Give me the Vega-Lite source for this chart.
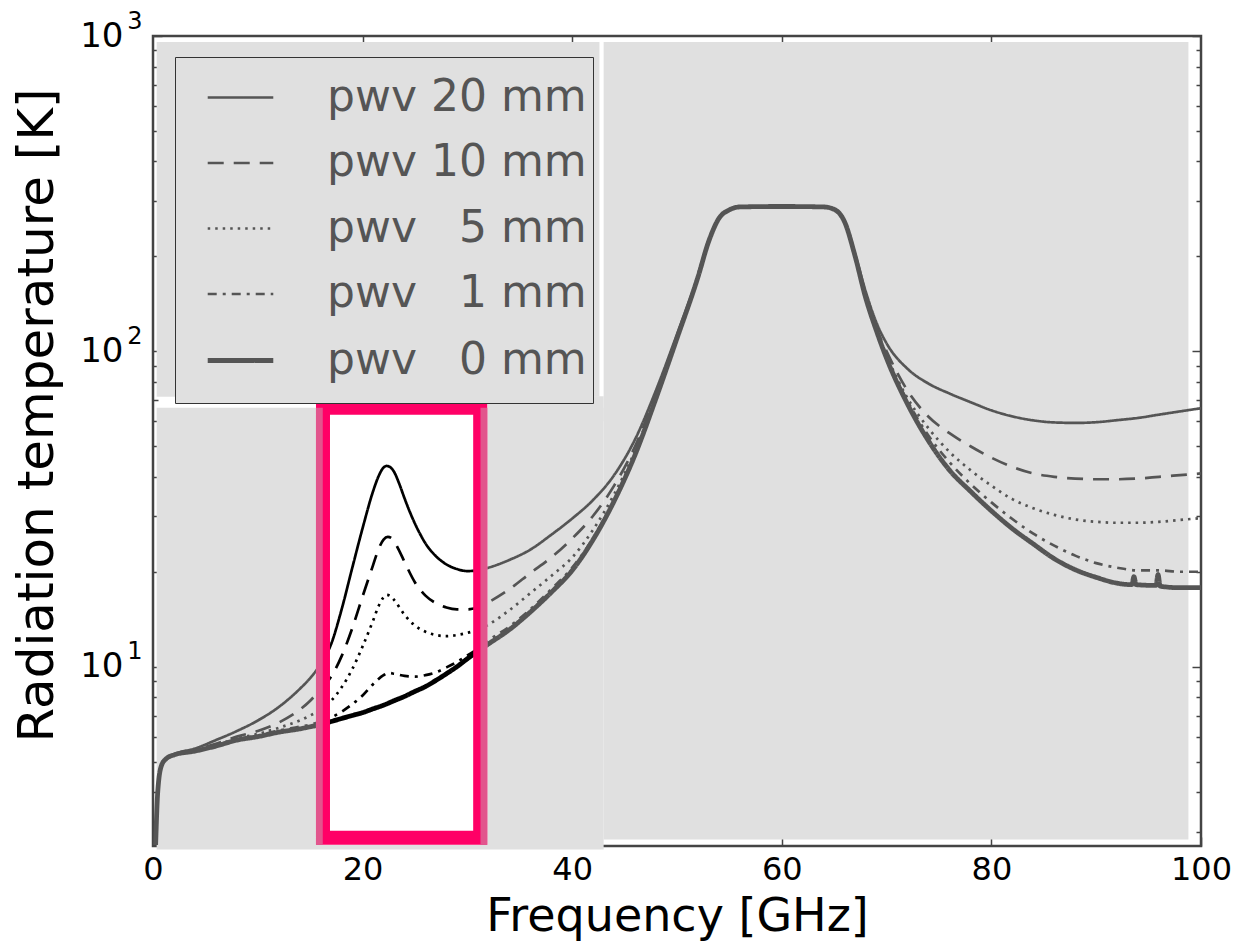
{
  "$schema": "https://vega.github.io/schema/vega-lite/v6.json",
  "width": 1048,
  "height": 810,
  "autosize": {"type": "none"},
  "padding": {"left": 153, "top": 36, "right": 33, "bottom": 101},
  "background": "white",
  "config": {
    "font": "DejaVu Sans",
    "view": {"stroke": "#444", "strokeWidth": 2.5},
    "axis": {"grid": false, "domain": false, "zindex": 1, "tickColor": "#444", "tickWidth": 1.5, "labelColor": "black", "titleColor": "black", "titleFontWeight": "normal", "labelFont": "DejaVu Sans", "titleFont": "DejaVu Sans"}
  },
  "datasets": {
    "bg": [
      {"x1": 0.35, "x2": 43.0, "y1": 2.63, "y2": 66.2},
      {"x1": 15.6, "x2": 43.0, "y1": 60, "y2": 72},
      {"x1": 0.35, "x2": 42.6, "y1": 71.8, "y2": 957},
      {"x1": 43.0, "x2": 98.8, "y1": 2.83, "y2": 957}
    ],
    "white": [{"x1": 15.55, "x2": 31.9, "y1": 2.72, "y2": 69.2}],
    "pink": [{"x1": 16.22, "x2": 31.22, "y1": 2.87, "y2": 66.2}],
    "edges": [
      {"x1": 15.55, "x2": 16.2, "y1": 2.72, "y2": 66.2},
      {"x1": 31.25, "x2": 31.9, "y1": 2.72, "y2": 66.2}
    ],
    "curves": [
      {"pwv": "20", "f": 0.25, "T": 2.72}, {"pwv": "20", "f": 0.45, "T": 4.0}, {"pwv": "20", "f": 0.8, "T": 4.85}, {"pwv": "20", "f": 1.3, "T": 5.13}, {"pwv": "20", "f": 2, "T": 5.28}, {"pwv": "20", "f": 4, "T": 5.5}, {"pwv": "20", "f": 6, "T": 5.85}, {"pwv": "20", "f": 8, "T": 6.25}, {"pwv": "20", "f": 10, "T": 6.75}, {"pwv": "20", "f": 12, "T": 7.45}, {"pwv": "20", "f": 14, "T": 8.5}, {"pwv": "20", "f": 15, "T": 9.2}, {"pwv": "20", "f": 16, "T": 10.2}, {"pwv": "20", "f": 17, "T": 11.8}, {"pwv": "20", "f": 18, "T": 15.2}, {"pwv": "20", "f": 19, "T": 20.5}, {"pwv": "20", "f": 20, "T": 27.5}, {"pwv": "20", "f": 21, "T": 36}, {"pwv": "20", "f": 21.5, "T": 40}, {"pwv": "20", "f": 22, "T": 42.8}, {"pwv": "20", "f": 22.3, "T": 43.3}, {"pwv": "20", "f": 22.6, "T": 43}, {"pwv": "20", "f": 23, "T": 41.5}, {"pwv": "20", "f": 23.5, "T": 38}, {"pwv": "20", "f": 24, "T": 34.2}, {"pwv": "20", "f": 24.5, "T": 31}, {"pwv": "20", "f": 25, "T": 28.4}, {"pwv": "20", "f": 25.5, "T": 26.3}, {"pwv": "20", "f": 26, "T": 24.6}, {"pwv": "20", "f": 27, "T": 22.4}, {"pwv": "20", "f": 28, "T": 21.1}, {"pwv": "20", "f": 29, "T": 20.4}, {"pwv": "20", "f": 30, "T": 20.1}, {"pwv": "20", "f": 31, "T": 20.2}, {"pwv": "20", "f": 32, "T": 20.6}, {"pwv": "20", "f": 34, "T": 21.8}, {"pwv": "20", "f": 36, "T": 23.5}, {"pwv": "20", "f": 38, "T": 26.2}, {"pwv": "20", "f": 40, "T": 29.5}, {"pwv": "20", "f": 42, "T": 33.8}, {"pwv": "20", "f": 44, "T": 40.5}, {"pwv": "20", "f": 46, "T": 52.6}, {"pwv": "20", "f": 48, "T": 75.3}, {"pwv": "20", "f": 50, "T": 113.3}, {"pwv": "20", "f": 52, "T": 174}, {"pwv": "20", "f": 53, "T": 224}, {"pwv": "20", "f": 54, "T": 264}, {"pwv": "20", "f": 55, "T": 281}, {"pwv": "20", "f": 56, "T": 287}, {"pwv": "20", "f": 60, "T": 288}, {"pwv": "20", "f": 64, "T": 287}, {"pwv": "20", "f": 65, "T": 282}, {"pwv": "20", "f": 66, "T": 258}, {"pwv": "20", "f": 67, "T": 203}, {"pwv": "20", "f": 68, "T": 155}, {"pwv": "20", "f": 69, "T": 124}, {"pwv": "20", "f": 70, "T": 106}, {"pwv": "20", "f": 72, "T": 88}, {"pwv": "20", "f": 74, "T": 79}, {"pwv": "20", "f": 76, "T": 73.5}, {"pwv": "20", "f": 78, "T": 69}, {"pwv": "20", "f": 80, "T": 65}, {"pwv": "20", "f": 82, "T": 62.2}, {"pwv": "20", "f": 84, "T": 60.4}, {"pwv": "20", "f": 86, "T": 59.5}, {"pwv": "20", "f": 88, "T": 59.3}, {"pwv": "20", "f": 90, "T": 59.6}, {"pwv": "20", "f": 92, "T": 60.5}, {"pwv": "20", "f": 94, "T": 61.5}, {"pwv": "20", "f": 96, "T": 63}, {"pwv": "20", "f": 98, "T": 64.5}, {"pwv": "20", "f": 100, "T": 66},

      {"pwv": "10", "f": 0.25, "T": 2.72}, {"pwv": "10", "f": 0.45, "T": 4.0}, {"pwv": "10", "f": 0.8, "T": 4.85}, {"pwv": "10", "f": 1.3, "T": 5.12}, {"pwv": "10", "f": 2, "T": 5.27}, {"pwv": "10", "f": 4, "T": 5.45}, {"pwv": "10", "f": 6, "T": 5.7}, {"pwv": "10", "f": 8, "T": 6.0}, {"pwv": "10", "f": 10, "T": 6.25}, {"pwv": "10", "f": 12, "T": 6.65}, {"pwv": "10", "f": 14, "T": 7.3}, {"pwv": "10", "f": 15, "T": 7.8}, {"pwv": "10", "f": 16, "T": 8.5}, {"pwv": "10", "f": 17, "T": 9.3}, {"pwv": "10", "f": 18, "T": 10.8}, {"pwv": "10", "f": 19, "T": 13.2}, {"pwv": "10", "f": 20, "T": 16.7}, {"pwv": "10", "f": 21, "T": 21}, {"pwv": "10", "f": 21.5, "T": 23.5}, {"pwv": "10", "f": 22, "T": 25.3}, {"pwv": "10", "f": 22.4, "T": 25.8}, {"pwv": "10", "f": 22.8, "T": 25.5}, {"pwv": "10", "f": 23, "T": 25}, {"pwv": "10", "f": 23.5, "T": 23.3}, {"pwv": "10", "f": 24, "T": 21.5}, {"pwv": "10", "f": 25, "T": 18.5}, {"pwv": "10", "f": 26, "T": 16.8}, {"pwv": "10", "f": 27, "T": 15.9}, {"pwv": "10", "f": 28, "T": 15.4}, {"pwv": "10", "f": 29, "T": 15.2}, {"pwv": "10", "f": 30, "T": 15.2}, {"pwv": "10", "f": 31, "T": 15.4}, {"pwv": "10", "f": 32, "T": 16}, {"pwv": "10", "f": 34, "T": 17.6}, {"pwv": "10", "f": 36, "T": 19.8}, {"pwv": "10", "f": 38, "T": 22.2}, {"pwv": "10", "f": 40, "T": 25.5}, {"pwv": "10", "f": 42, "T": 30.1}, {"pwv": "10", "f": 44, "T": 37.5}, {"pwv": "10", "f": 46, "T": 50}, {"pwv": "10", "f": 48, "T": 73}, {"pwv": "10", "f": 50, "T": 111.6}, {"pwv": "10", "f": 52, "T": 173}, {"pwv": "10", "f": 53, "T": 223}, {"pwv": "10", "f": 54, "T": 264}, {"pwv": "10", "f": 55, "T": 281}, {"pwv": "10", "f": 56, "T": 287}, {"pwv": "10", "f": 60, "T": 288}, {"pwv": "10", "f": 64, "T": 287}, {"pwv": "10", "f": 65, "T": 282}, {"pwv": "10", "f": 66, "T": 257}, {"pwv": "10", "f": 67, "T": 201}, {"pwv": "10", "f": 68, "T": 150}, {"pwv": "10", "f": 69, "T": 119}, {"pwv": "10", "f": 70, "T": 100}, {"pwv": "10", "f": 72, "T": 75}, {"pwv": "10", "f": 74, "T": 62}, {"pwv": "10", "f": 76, "T": 55}, {"pwv": "10", "f": 78, "T": 50}, {"pwv": "10", "f": 80, "T": 46}, {"pwv": "10", "f": 82, "T": 43}, {"pwv": "10", "f": 84, "T": 41}, {"pwv": "10", "f": 86, "T": 40}, {"pwv": "10", "f": 88, "T": 39.5}, {"pwv": "10", "f": 90, "T": 39.3}, {"pwv": "10", "f": 92, "T": 39.3}, {"pwv": "10", "f": 94, "T": 39.5}, {"pwv": "10", "f": 96, "T": 40}, {"pwv": "10", "f": 98, "T": 40.5}, {"pwv": "10", "f": 100, "T": 41},

      {"pwv": "5", "f": 0.25, "T": 2.72}, {"pwv": "5", "f": 0.45, "T": 4.0}, {"pwv": "5", "f": 0.8, "T": 4.85}, {"pwv": "5", "f": 1.3, "T": 5.12}, {"pwv": "5", "f": 2, "T": 5.26}, {"pwv": "5", "f": 4, "T": 5.42}, {"pwv": "5", "f": 6, "T": 5.65}, {"pwv": "5", "f": 8, "T": 5.92}, {"pwv": "5", "f": 10, "T": 6.12}, {"pwv": "5", "f": 12, "T": 6.4}, {"pwv": "5", "f": 14, "T": 6.75}, {"pwv": "5", "f": 15, "T": 7.0}, {"pwv": "5", "f": 16, "T": 7.3}, {"pwv": "5", "f": 17, "T": 7.8}, {"pwv": "5", "f": 18, "T": 8.6}, {"pwv": "5", "f": 19, "T": 9.8}, {"pwv": "5", "f": 20, "T": 11.6}, {"pwv": "5", "f": 21, "T": 14}, {"pwv": "5", "f": 21.5, "T": 15.5}, {"pwv": "5", "f": 22, "T": 16.6}, {"pwv": "5", "f": 22.3, "T": 16.9}, {"pwv": "5", "f": 22.7, "T": 16.7}, {"pwv": "5", "f": 23, "T": 16.3}, {"pwv": "5", "f": 24, "T": 14.6}, {"pwv": "5", "f": 25, "T": 13.5}, {"pwv": "5", "f": 26, "T": 12.9}, {"pwv": "5", "f": 27, "T": 12.6}, {"pwv": "5", "f": 28, "T": 12.5}, {"pwv": "5", "f": 29, "T": 12.6}, {"pwv": "5", "f": 30, "T": 12.8}, {"pwv": "5", "f": 31, "T": 13.1}, {"pwv": "5", "f": 32, "T": 13.6}, {"pwv": "5", "f": 34, "T": 15.1}, {"pwv": "5", "f": 36, "T": 17.1}, {"pwv": "5", "f": 38, "T": 19.4}, {"pwv": "5", "f": 40, "T": 22.2}, {"pwv": "5", "f": 42, "T": 27.2}, {"pwv": "5", "f": 44, "T": 35.2}, {"pwv": "5", "f": 46, "T": 48.4}, {"pwv": "5", "f": 48, "T": 72}, {"pwv": "5", "f": 50, "T": 110.8}, {"pwv": "5", "f": 52, "T": 172.5}, {"pwv": "5", "f": 53, "T": 222}, {"pwv": "5", "f": 54, "T": 264}, {"pwv": "5", "f": 55, "T": 281}, {"pwv": "5", "f": 56, "T": 287}, {"pwv": "5", "f": 60, "T": 288}, {"pwv": "5", "f": 64, "T": 287}, {"pwv": "5", "f": 65, "T": 282}, {"pwv": "5", "f": 66, "T": 257}, {"pwv": "5", "f": 67, "T": 200}, {"pwv": "5", "f": 68, "T": 149}, {"pwv": "5", "f": 69, "T": 118}, {"pwv": "5", "f": 70, "T": 97}, {"pwv": "5", "f": 72, "T": 71}, {"pwv": "5", "f": 74, "T": 57}, {"pwv": "5", "f": 76, "T": 48}, {"pwv": "5", "f": 78, "T": 42}, {"pwv": "5", "f": 80, "T": 37.5}, {"pwv": "5", "f": 82, "T": 34}, {"pwv": "5", "f": 84, "T": 31.8}, {"pwv": "5", "f": 86, "T": 30.3}, {"pwv": "5", "f": 88, "T": 29.3}, {"pwv": "5", "f": 90, "T": 28.8}, {"pwv": "5", "f": 92, "T": 28.6}, {"pwv": "5", "f": 94, "T": 28.6}, {"pwv": "5", "f": 96, "T": 28.8}, {"pwv": "5", "f": 98, "T": 29.2}, {"pwv": "5", "f": 100, "T": 29.6},

      {"pwv": "1", "f": 0.25, "T": 2.72}, {"pwv": "1", "f": 0.45, "T": 4.0}, {"pwv": "1", "f": 0.8, "T": 4.85}, {"pwv": "1", "f": 1.3, "T": 5.12}, {"pwv": "1", "f": 2, "T": 5.25}, {"pwv": "1", "f": 4, "T": 5.41}, {"pwv": "1", "f": 6, "T": 5.62}, {"pwv": "1", "f": 8, "T": 5.88}, {"pwv": "1", "f": 10, "T": 6.05}, {"pwv": "1", "f": 12, "T": 6.27}, {"pwv": "1", "f": 14, "T": 6.45}, {"pwv": "1", "f": 15, "T": 6.55}, {"pwv": "1", "f": 16, "T": 6.7}, {"pwv": "1", "f": 17, "T": 6.9}, {"pwv": "1", "f": 18, "T": 7.2}, {"pwv": "1", "f": 19, "T": 7.6}, {"pwv": "1", "f": 20, "T": 8.1}, {"pwv": "1", "f": 21, "T": 8.8}, {"pwv": "1", "f": 22, "T": 9.4}, {"pwv": "1", "f": 22.5, "T": 9.55}, {"pwv": "1", "f": 23, "T": 9.5}, {"pwv": "1", "f": 24, "T": 9.35}, {"pwv": "1", "f": 25, "T": 9.3}, {"pwv": "1", "f": 26, "T": 9.4}, {"pwv": "1", "f": 27, "T": 9.6}, {"pwv": "1", "f": 28, "T": 9.95}, {"pwv": "1", "f": 29, "T": 10.35}, {"pwv": "1", "f": 30, "T": 10.85}, {"pwv": "1", "f": 31, "T": 11.4}, {"pwv": "1", "f": 32, "T": 12.1}, {"pwv": "1", "f": 34, "T": 13.4}, {"pwv": "1", "f": 36, "T": 15.2}, {"pwv": "1", "f": 38, "T": 17.6}, {"pwv": "1", "f": 40, "T": 20.6}, {"pwv": "1", "f": 42, "T": 25.6}, {"pwv": "1", "f": 44, "T": 33.9}, {"pwv": "1", "f": 46, "T": 47.4}, {"pwv": "1", "f": 48, "T": 71.3}, {"pwv": "1", "f": 50, "T": 110.3}, {"pwv": "1", "f": 52, "T": 172}, {"pwv": "1", "f": 53, "T": 222}, {"pwv": "1", "f": 54, "T": 264}, {"pwv": "1", "f": 55, "T": 281}, {"pwv": "1", "f": 56, "T": 287}, {"pwv": "1", "f": 60, "T": 288}, {"pwv": "1", "f": 64, "T": 287}, {"pwv": "1", "f": 65, "T": 282}, {"pwv": "1", "f": 66, "T": 257}, {"pwv": "1", "f": 67, "T": 200}, {"pwv": "1", "f": 68, "T": 148}, {"pwv": "1", "f": 69, "T": 117}, {"pwv": "1", "f": 70, "T": 96}, {"pwv": "1", "f": 72, "T": 69.5}, {"pwv": "1", "f": 74, "T": 54}, {"pwv": "1", "f": 76, "T": 44.5}, {"pwv": "1", "f": 78, "T": 38}, {"pwv": "1", "f": 80, "T": 33.2}, {"pwv": "1", "f": 82, "T": 29.4}, {"pwv": "1", "f": 84, "T": 26.4}, {"pwv": "1", "f": 86, "T": 24.2}, {"pwv": "1", "f": 88, "T": 22.5}, {"pwv": "1", "f": 90, "T": 21.3}, {"pwv": "1", "f": 92, "T": 20.6}, {"pwv": "1", "f": 94, "T": 20.2}, {"pwv": "1", "f": 96, "T": 20.2}, {"pwv": "1", "f": 98, "T": 20}, {"pwv": "1", "f": 100, "T": 20},

      {"pwv": "0", "f": 0.25, "T": 2.72}, {"pwv": "0", "f": 0.45, "T": 4.0}, {"pwv": "0", "f": 0.8, "T": 4.85}, {"pwv": "0", "f": 1.3, "T": 5.12}, {"pwv": "0", "f": 2, "T": 5.25}, {"pwv": "0", "f": 4, "T": 5.4}, {"pwv": "0", "f": 6, "T": 5.6}, {"pwv": "0", "f": 8, "T": 5.85}, {"pwv": "0", "f": 10, "T": 6.0}, {"pwv": "0", "f": 12, "T": 6.2}, {"pwv": "0", "f": 14, "T": 6.35}, {"pwv": "0", "f": 15, "T": 6.45}, {"pwv": "0", "f": 16, "T": 6.55}, {"pwv": "0", "f": 17, "T": 6.7}, {"pwv": "0", "f": 18, "T": 6.85}, {"pwv": "0", "f": 19, "T": 7.0}, {"pwv": "0", "f": 20, "T": 7.15}, {"pwv": "0", "f": 21, "T": 7.35}, {"pwv": "0", "f": 22, "T": 7.55}, {"pwv": "0", "f": 23, "T": 7.8}, {"pwv": "0", "f": 24, "T": 8.05}, {"pwv": "0", "f": 25, "T": 8.35}, {"pwv": "0", "f": 26, "T": 8.65}, {"pwv": "0", "f": 27, "T": 9.05}, {"pwv": "0", "f": 28, "T": 9.5}, {"pwv": "0", "f": 29, "T": 10.0}, {"pwv": "0", "f": 30, "T": 10.6}, {"pwv": "0", "f": 31, "T": 11.2}, {"pwv": "0", "f": 32, "T": 11.8}, {"pwv": "0", "f": 34, "T": 13.1}, {"pwv": "0", "f": 36, "T": 14.9}, {"pwv": "0", "f": 38, "T": 17.2}, {"pwv": "0", "f": 40, "T": 20.2}, {"pwv": "0", "f": 42, "T": 25.3}, {"pwv": "0", "f": 44, "T": 33.5}, {"pwv": "0", "f": 46, "T": 47}, {"pwv": "0", "f": 48, "T": 71}, {"pwv": "0", "f": 50, "T": 110}, {"pwv": "0", "f": 52, "T": 172}, {"pwv": "0", "f": 53, "T": 222}, {"pwv": "0", "f": 54, "T": 264}, {"pwv": "0", "f": 55, "T": 281}, {"pwv": "0", "f": 56, "T": 287}, {"pwv": "0", "f": 60, "T": 288}, {"pwv": "0", "f": 64, "T": 287}, {"pwv": "0", "f": 65, "T": 282}, {"pwv": "0", "f": 66, "T": 257}, {"pwv": "0", "f": 67, "T": 200}, {"pwv": "0", "f": 68, "T": 148}, {"pwv": "0", "f": 69, "T": 117}, {"pwv": "0", "f": 70, "T": 95}, {"pwv": "0", "f": 72, "T": 68}, {"pwv": "0", "f": 74, "T": 52}, {"pwv": "0", "f": 76, "T": 42}, {"pwv": "0", "f": 78, "T": 36}, {"pwv": "0", "f": 80, "T": 31.2}, {"pwv": "0", "f": 82, "T": 27.4}, {"pwv": "0", "f": 84, "T": 24.5}, {"pwv": "0", "f": 86, "T": 22}, {"pwv": "0", "f": 88, "T": 20.3}, {"pwv": "0", "f": 90, "T": 19.2}, {"pwv": "0", "f": 92, "T": 18.4}, {"pwv": "0", "f": 93.4, "T": 18.2}, {"pwv": "0", "f": 93.6, "T": 19.3}, {"pwv": "0", "f": 93.8, "T": 18.2}, {"pwv": "0", "f": 95.7, "T": 18.1}, {"pwv": "0", "f": 95.9, "T": 19.6}, {"pwv": "0", "f": 96.1, "T": 18.0}, {"pwv": "0", "f": 98, "T": 17.8}, {"pwv": "0", "f": 100, "T": 17.8}
    ]
  },
  "layer": [
    {
      "data": {"name": "bg"},
      "mark": {"type": "rect", "color": "#e0e0e0"},
      "encoding": {
        "x": {"field": "x1", "type": "quantitative", "scale": {"domain": [0, 100], "nice": false, "zero": false}, "axis": null},
        "x2": {"field": "x2"},
        "y": {"field": "y1", "type": "quantitative", "scale": {"type": "log", "domain": [2.7, 1000], "nice": false}, "axis": null},
        "y2": {"field": "y2"}
      }
    },
    {
      "data": {"name": "curves"},
      "mark": {"type": "line", "color": "#555555", "interpolate": "monotone"},
      "encoding": {
        "x": {"field": "f", "type": "quantitative", "scale": {"domain": [0, 100], "nice": false, "zero": false},
          "axis": {"orient": "bottom", "values": [0, 20, 40, 60, 80, 100], "offset": -9, "tickSize": 9, "labelFontSize": 32, "labelFlush": false, "labelPadding": 8, "title": "Frequency [GHz]", "titleFontSize": 46, "titlePadding": 9}},
        "y": {"field": "T", "type": "quantitative", "scale": {"type": "log", "domain": [2.7, 1000], "nice": false},
          "axis": {"orient": "left", "values": [10, 100, 1000], "offset": -9, "tickSize": 9,
            "labelExpr": "'10'",
            "labelFontSize": 34, "labelOverlap": false, "labelFlush": false, "labelPadding": 30,
            "title": "Radiation temperature [K]", "titleFontSize": 50, "titleX": -100, "titleY": 379}},
        "strokeDash": {"field": "pwv", "type": "nominal",
          "scale": {"domain": ["20", "10", "5", "1", "0"], "range": [[1, 0], [16, 10], [2.5, 5], [9, 6, 3, 6], [1, 0]]},
          "legend": {"title": "\u00a0", "titleOrient": "bottom", "titleFontSize": 12, "titlePadding": 3, "orient": "none", "legendX": 22, "legendY": 21, "labelFont": "DejaVu Sans", "labelFontSize": 44, "labelColor": "#555555", "labelLimit": 0,
            "symbolType": "stroke", "symbolSize": 4300, "symbolStrokeColor": "#555555", "symbolOffset": 24, "labelOffset": 51, "padding": 6, "rowPadding": 8.5,
            "fillColor": "#e0e0e0", "strokeColor": "#333333",
            "labelExpr": "'pwv ' + (length(datum.label) < 2 ? '\u00a0\u00a0' : '') + datum.label + ' mm\u00a0'"}},
        "strokeWidth": {"field": "pwv", "type": "nominal",
          "scale": {"type": "ordinal", "domain": ["20", "10", "5", "1", "0"], "range": [2.7, 2.7, 2.7, 2.7, 4.8]},
          "legend": {"title": "\u00a0", "titleOrient": "bottom", "titleFontSize": 12, "titlePadding": 3, "orient": "none", "legendX": 22, "legendY": 21, "labelFont": "DejaVu Sans", "labelFontSize": 44, "labelColor": "#555555", "labelLimit": 0,
            "symbolType": "stroke", "symbolSize": 4300, "symbolStrokeColor": "#555555", "symbolOffset": 24, "labelOffset": 51, "padding": 6, "rowPadding": 8.5,
            "fillColor": "#e0e0e0", "strokeColor": "#333333",
            "labelExpr": "'pwv ' + (length(datum.label) < 2 ? '\u00a0\u00a0' : '') + datum.label + ' mm\u00a0'"}}
      }
    },
    {
      "data": {"name": "white"},
      "mark": {"type": "rect", "color": "white"},
      "encoding": {
        "x": {"field": "x1", "type": "quantitative", "scale": {"domain": [0, 100], "nice": false, "zero": false}, "axis": null},
        "x2": {"field": "x2"},
        "y": {"field": "y1", "type": "quantitative", "scale": {"type": "log", "domain": [2.7, 1000], "nice": false},
          "axis": {"orient": "left", "values": [3, 4, 5, 6, 7, 8, 9, 20, 30, 40, 50, 60, 70, 80, 90, 200, 300, 400, 500, 600, 700, 800, 900], "offset": -5, "tickSize": 5, "labels": false, "title": null}},
        "y2": {"field": "y2"}
      }
    },
    {
      "data": {"name": "curves"},
      "transform": [{"filter": "datum.f >= 15.5 && datum.f <= 31.5"}],
      "mark": {"type": "line", "color": "black", "interpolate": "monotone"},
      "encoding": {
        "x": {"field": "f", "type": "quantitative", "scale": {"domain": [0, 100], "nice": false, "zero": false},
          "axis": {"orient": "top", "values": [20, 40, 60, 80], "offset": -9, "tickSize": 9, "labels": false, "title": null}},
        "y": {"field": "T", "type": "quantitative", "scale": {"type": "log", "domain": [2.7, 1000], "nice": false},
          "axis": {"orient": "right", "values": [10, 100, 1000], "offset": -9, "tickSize": 9, "labels": false, "title": null}},
        "strokeDash": {"field": "pwv", "type": "nominal",
          "scale": {"domain": ["20", "10", "5", "1", "0"], "range": [[1, 0], [16, 10], [2.5, 5], [9, 6, 3, 6], [1, 0]]}, "legend": null},
        "strokeWidth": {"field": "pwv", "type": "nominal",
          "scale": {"type": "ordinal", "domain": ["20", "10", "5", "1", "0"], "range": [2.7, 2.7, 2.7, 2.7, 4.8]}, "legend": null}
      }
    },
    {
      "data": {"name": "pink"},
      "mark": {"type": "rect", "filled": false, "stroke": "#ff0066", "strokeWidth": 14},
      "encoding": {
        "x": {"field": "x1", "type": "quantitative", "scale": {"domain": [0, 100], "nice": false, "zero": false}, "axis": null},
        "x2": {"field": "x2"},
        "y": {"field": "y1", "type": "quantitative", "scale": {"type": "log", "domain": [2.7, 1000], "nice": false},
          "axis": {"orient": "right", "values": [3, 4, 5, 6, 7, 8, 9, 20, 30, 40, 50, 60, 70, 80, 90, 200, 300, 400, 500, 600, 700, 800, 900], "offset": -5, "tickSize": 5, "labels": false, "title": null}},
        "y2": {"field": "y2"}
      }
    },
    {
      "data": {"name": "edges"},
      "mark": {"type": "rect", "color": "#e2558d"},
      "encoding": {
        "x": {"field": "x1", "type": "quantitative", "scale": {"domain": [0, 100], "nice": false, "zero": false}, "axis": null},
        "x2": {"field": "x2"},
        "y": {"field": "y1", "type": "quantitative", "scale": {"type": "log", "domain": [2.7, 1000], "nice": false},
          "axis": {"orient": "left", "values": [10, 100, 1000], "ticks": false, "labelExpr": "datum.value == 1000 ? '3' : datum.value == 100 ? '2' : '1'", "labelFontSize": 24, "labelPadding": 11, "labelOffset": -15, "labelOverlap": false, "labelFlush": false, "title": null}},
        "y2": {"field": "y2"}
      }
    }
  ],
  "resolve": {"axis": {"x": "independent", "y": "independent"}}
}
